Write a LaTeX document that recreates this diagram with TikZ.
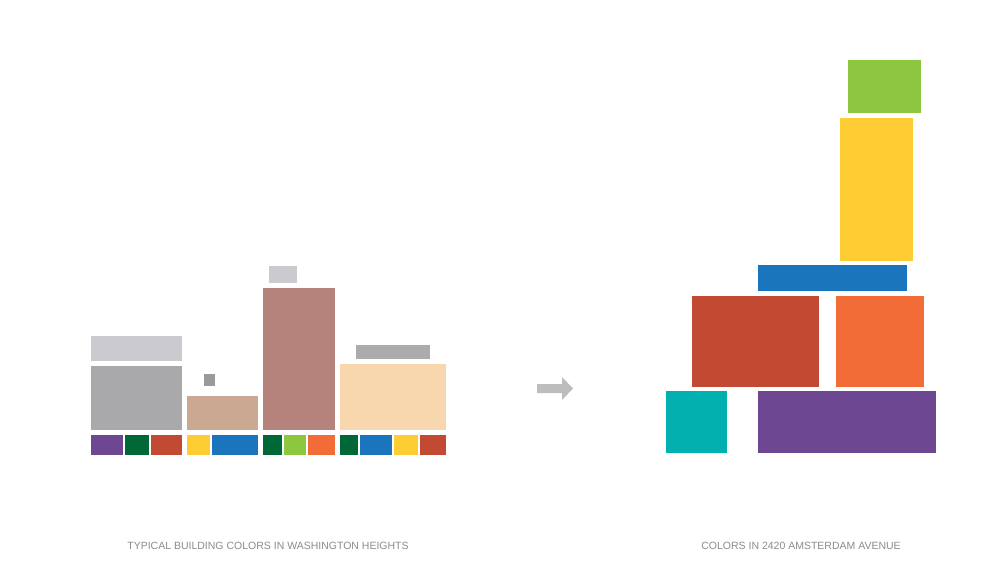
\documentclass[tikz,border=0pt]{standalone}
\usepackage{fontspec}
\setmainfont{Liberation Sans}
\definecolor{ltgray}{HTML}{CBCBCF}
\definecolor{midgray}{HTML}{A9A9AB}
\definecolor{dkgray}{HTML}{9A9A9C}
\definecolor{tan}{HTML}{CBA892}
\definecolor{mauve}{HTML}{B5837C}
\definecolor{peach}{HTML}{F8D7AE}
\definecolor{bargray}{HTML}{ABABAD}
\definecolor{cpurple}{HTML}{6E4792}
\definecolor{cgreen}{HTML}{006837}
\definecolor{cred}{HTML}{C24A32}
\definecolor{cyellow}{HTML}{FECD34}
\definecolor{cblue}{HTML}{1B75BC}
\definecolor{clgreen}{HTML}{8DC63F}
\definecolor{corange}{HTML}{F26C38}
\definecolor{cteal}{HTML}{00B0AF}
\definecolor{arrowgray}{HTML}{BDBDBD}
\definecolor{textgray}{HTML}{8C8C8C}
\tikzset{
  caption/.style={text=textgray, font=\fontsize{10.5}{12}\selectfont, inner sep=0pt, anchor=center},
}
\begin{document}
\begin{tikzpicture}[x=1pt,y=-1pt]
\useasboundingbox (0,0) rectangle (1000,573);
\fill[white] (0,0) rectangle (1000,573);
% left group: buildings
\fill[ltgray] (91,336) rectangle (182,361);
\fill[midgray] (91,366) rectangle (182,430);
\fill[dkgray] (204,374) rectangle (215,386);
\fill[tan] (187,396) rectangle (258,430);
\fill[mauve] (263,288) rectangle (335,430);
\fill[ltgray] (269,266) rectangle (297,283);
\fill[peach] (340,364) rectangle (446,430);
\fill[bargray] (356,345) rectangle (430,359);
% swatches
\fill[cpurple] (91,435) rectangle (123,455);
\fill[cgreen] (125,435) rectangle (149,455);
\fill[cred] (151,435) rectangle (182,455);
\fill[cyellow] (187,435) rectangle (210,455);
\fill[cblue] (212,435) rectangle (258,455);
\fill[cgreen] (263,435) rectangle (282,455);
\fill[clgreen] (284,435) rectangle (306,455);
\fill[corange] (308,435) rectangle (335,455);
\fill[cgreen] (340,435) rectangle (358,455);
\fill[cblue] (360,435) rectangle (392,455);
\fill[cyellow] (394,435) rectangle (418,455);
\fill[cred] (420,435) rectangle (446,455);
% arrow
\fill[arrowgray] (537,384) -- (562,384) -- (562,377) -- (573,388.5) -- (562,400) -- (562,393) -- (537,393) -- cycle;
% right group
\fill[clgreen] (848,60) rectangle (921,113);
\fill[cyellow] (840,118) rectangle (913,261);
\fill[cblue] (758,265) rectangle (907,291);
\fill[cred] (692,296) rectangle (819,387);
\fill[corange] (836,296) rectangle (924,387);
\fill[cteal] (666,391) rectangle (727,453);
\fill[cpurple] (758,391) rectangle (936,453);
% captions
\node[caption] (capL) at (268,546) {TYPICAL BUILDING COLORS IN WASHINGTON HEIGHTS};
\node[caption] (capR) at (801,546) {COLORS IN 2420 AMSTERDAM AVENUE};
\end{tikzpicture}
\end{document}
